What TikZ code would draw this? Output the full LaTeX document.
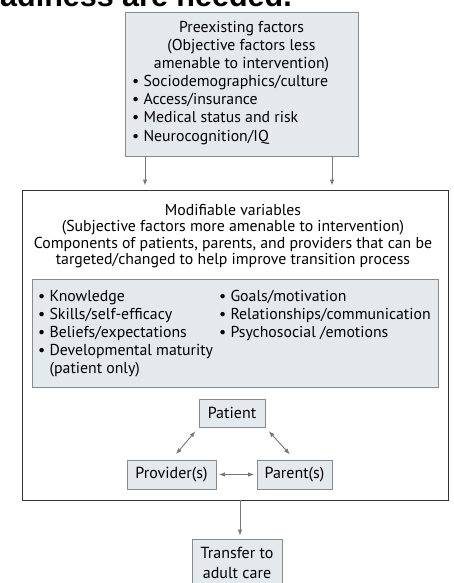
\documentclass[tikz,border=0pt]{standalone}
\usepackage{fontspec}
\setmainfont{PT Sans}
\newfontfamily\titlefont{Liberation Sans}
\usetikzlibrary{arrows.meta}
\definecolor{boxfill}{HTML}{E4E9ED}
\definecolor{boxline}{HTML}{8A8A8A}
\definecolor{arrcol}{HTML}{777777}
\begin{document}
\begin{tikzpicture}[x=1pt,y=-1pt,
  gbox/.style={draw=boxline, fill=boxfill, line width=0.9pt, inner sep=0pt},
  wbox/.style={draw=black!80, fill=white, line width=0.9pt, inner sep=0pt},
  txt/.style={inner sep=0pt, font=\fontsize{15.8}{17}\selectfont},
  stxt/.style={inner sep=0pt, font=\fontsize{16}{17}\selectfont},
  arr/.style={draw=arrcol, line width=0.9pt, -{Latex[length=6pt,width=4.5pt]}},
  darr/.style={draw=arrcol, line width=0.9pt, {Latex[length=6pt,width=4.5pt]}-{Latex[length=6pt,width=4.5pt]}}
]
\useasboundingbox (0,0) rectangle (453,583);
\clip (0,0) rectangle (453,583);
\fill[white] (0,0) rectangle (453,583);

% cropped title
\node[inner sep=0pt, anchor=base west, font=\titlefont\bfseries\fontsize{30.5}{32}\selectfont] (title) at (0,7) {adiness are needed.};

% preexisting box
\node[gbox, minimum width=233pt, minimum height=144pt] (pre) at (241.5,84) {};
\node[txt, anchor=base] (p1) at (241.5,33) {Preexisting factors};
\node[txt, anchor=base] (p2) at (241.5,51) {(Objective factors less};
\node[txt, anchor=base] (p3) at (241.5,69) {amenable to intervention)};
\node[txt, anchor=base west] (p4) at (132,87) {• Sociodemographics/culture};
\node[txt, anchor=base west] (p5) at (132,105) {• Access/insurance};
\node[txt, anchor=base west] (p6) at (132,123) {• Medical status and risk};
\node[txt, anchor=base west] (p7) at (132,141) {• Neurocognition/IQ};

% modifiable box
\node[wbox, minimum width=426pt, minimum height=310pt] (mod) at (235,345) {};
\node[txt, anchor=base] (m1) at (233,215) {Modifiable variables};
\node[txt, anchor=base] (m2) at (233,231.5) {(Subjective factors more amenable to intervention)};
\node[txt, anchor=base] (m3) at (233,248) {Components of patients, parents, and providers that can be};
\node[txt, anchor=base] (m4) at (233,264.5) {targeted/changed to help improve transition process};

\node[gbox, minimum width=406pt, minimum height=108pt] (inner) at (235,333) {};
\node[txt, anchor=base west] (k1) at (38,301) {• Knowledge};
\node[txt, anchor=base west] (k2) at (38,319) {• Skills/self-efficacy};
\node[txt, anchor=base west] (k3) at (38,337) {• Beliefs/expectations};
\node[txt, anchor=base west] (k4) at (38,355) {• Developmental maturity};
\node[txt, anchor=base west] (k5) at (49.5,373) {(patient only)};
\node[txt, anchor=base west] (g1) at (219,301) {• Goals/motivation};
\node[txt, anchor=base west] (g2) at (219,319) {• Relationships/communication};
\node[txt, anchor=base west] (g3) at (219,337) {• Psychosocial /emotions};

% triad
\node[gbox, stxt, minimum width=66pt, minimum height=28pt] (pat) at (232,413) {Patient};
\node[gbox, stxt, minimum width=89pt, minimum height=29pt] (prov) at (171.5,474.5) {Provider(s)};
\node[gbox, stxt, minimum width=75pt, minimum height=29pt] (par) at (294.5,474.5) {Parent(s)};

\draw[darr, shorten <=7pt, shorten >=5pt] (prov.north) -- (pat.south west);
\draw[darr, shorten <=5pt, shorten >=7pt] (pat.south east) -- (par.north);
\draw[darr, shorten <=2.5pt, shorten >=2.5pt] (prov.east) -- (par.west);

% transfer
\node[gbox, minimum width=90pt, minimum height=54pt] (trans) at (237,566) {};
\node[stxt, anchor=base] (t1) at (237,558) {Transfer to};
\node[stxt, anchor=base] (t2) at (237,578) {adult care};

% arrows
\draw[arr, shorten >=4pt] ([xshift=-96.5pt]pre.south) -- ([xshift=-96.5pt]pre.south |- mod.north);
\draw[arr, shorten >=4pt] ([xshift=90.5pt]pre.south) -- ([xshift=90.5pt]pre.south |- mod.north);
\draw[arr, shorten >=3pt] ([xshift=5pt]mod.south) -- ([xshift=3pt]trans.north);
\end{tikzpicture}
\end{document}
